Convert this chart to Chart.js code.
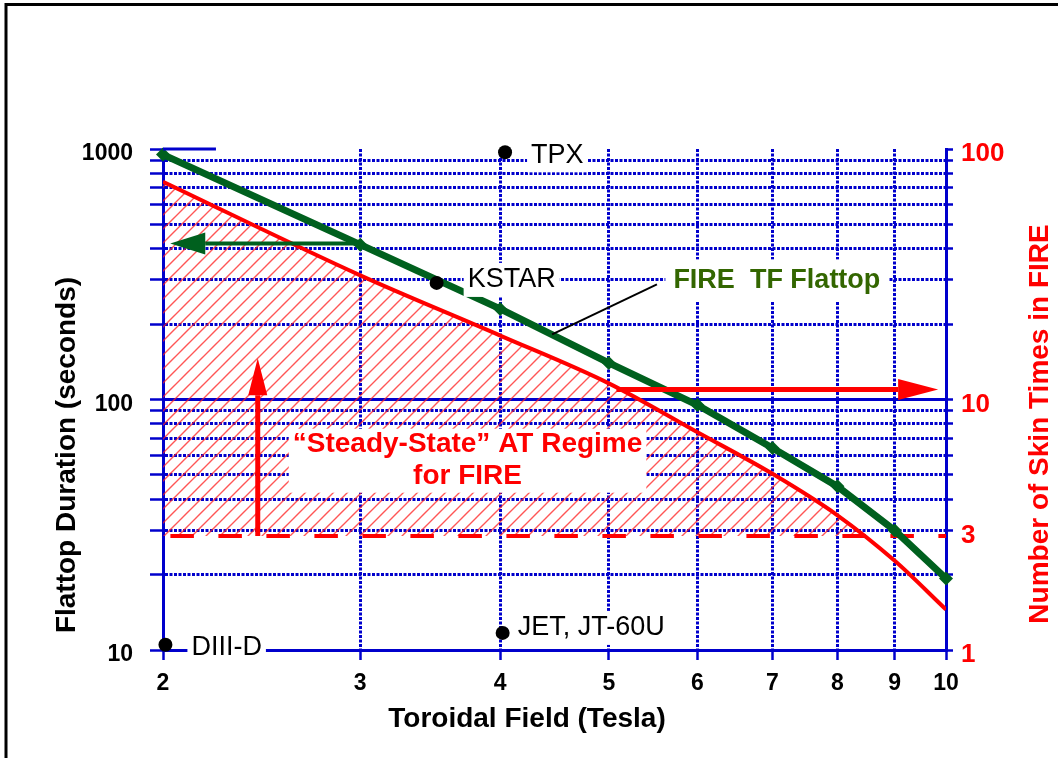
<!DOCTYPE html>
<html>
<head>
<meta charset="utf-8">
<title>FIRE flattop duration</title>
<script src="https://cdn.jsdelivr.net/npm/chart.js@4.4.1/dist/chart.umd.min.js"></script>
<style>
  html, body { margin: 0; padding: 0; background: #fff; overflow: hidden; }
  canvas { display: block; }
</style>
</head>
<body>
<canvas id="flattopChart" width="1058" height="758"></canvas>
<script>
// Toroidal field (T) where the flattop was computed
const fieldTesla = [2, 3, 4, 5, 6, 7, 8, 9, 10];
// TF coil flattop duration (s)
const tfFlattop = [950, 415, 230, 140, 95, 64, 45, 30, 19.3];
// upper edge of the steady-state regime (s)
const skinLimit = [740, 313, 180, 116, 74, 50.5, 34.5, 22.7, 14.5];
// lower edge: about 3 skin times
const steadyStateFloor = 28.5;

// existing machines
const machineNames = ["TPX", "KSTAR", "JET, JT-60U", "DIII-D"];
const machineField = [4.04, 3.51, 4.02, 2.01];
const machineFlattop = [970, 292, 11.7, 10.5];

// axis ticks
const fieldTicks = [2, 3, 4, 5, 6, 7, 8, 9, 10];
const durationTicks = [10, 20, 30, 40, 50, 60, 70, 80, 90, 100, 200, 300, 400, 500, 600, 700, 800, 900, 1000];
const durationLabels = [10, 100, 1000];
const skinTicks = [1, 2, 3, 4, 5, 6, 7, 8, 9, 10, 20, 30, 40, 50, 60, 70, 80, 90, 100];
const skinLabels = [1, 3, 10, 100];

// arrows [field, seconds]
const arrowStart = [[3, 420], [2.43, 28.5], [5.08, 109.6]];
const arrowEnd = [[2.03, 420], [2.43, 146], [9.84, 109.6]];
// pointer from the TF label to its curve
const leaderStart = [4.45, 182];
const leaderEnd = [5.52, 288];

const BLUE = "#0000CC";
const RED = "#FF0000";
const GREEN = "#00601E";
const FONT = '"Liberation Sans", Arial, sans-serif';

const canvas = document.getElementById("flattopChart");
const ctx = canvas.getContext("2d");

/**
 * Diagonal red hatch for the steady-state region
 */
function maakHatch() {
  const s = 14;
  const tile = document.createElement("canvas");
  tile.width = s;
  tile.height = s;
  const g = tile.getContext("2d");
  g.strokeStyle = "rgba(255,30,30,0.75)";
  g.lineWidth = 1.4;
  g.beginPath();
  g.moveTo(-2, s + 2); g.lineTo(s + 2, -2);
  g.moveTo(-2, 2); g.lineTo(2, -2);
  g.moveTo(s - 2, s + 2); g.lineTo(s + 2, s - 2);
  g.stroke();
  return ctx.createPattern(tile, "repeat");
}

function pijl(c, x1, y1, x2, y2, kleur, dik, kopLen, kopBreed) {
  const a = Math.atan2(y2 - y1, x2 - x1);
  const bx = x2 - kopLen * Math.cos(a);
  const by = y2 - kopLen * Math.sin(a);
  c.strokeStyle = kleur;
  c.fillStyle = kleur;
  c.lineWidth = dik;
  c.beginPath();
  c.moveTo(x1, y1);
  c.lineTo(bx, by);
  c.stroke();
  const hx = Math.sin(a) * kopBreed / 2;
  const hy = Math.cos(a) * kopBreed / 2;
  c.beginPath();
  c.moveTo(x2, y2);
  c.lineTo(bx + hx, by - hy);
  c.lineTo(bx - hx, by + hy);
  c.closePath();
  c.fill();
}

function tekstMetVak(c, tekst, x, y, padX, padY) {
  const w = c.measureText(tekst).width;
  c.fillStyle = "#fff";
  c.fillRect(x - padX, y - padY, w + 2 * padX, 2 * padY);
}

const labelDx = [26, 31, 15, 26];
const labelDy = [3, -3, -5, 2.5];
const pijlKleur = [GREEN, RED, RED];
const pijlKop = [[35, 22], [37, 19], [40, 21]];

const decoratie = {
  id: "decoratie",
  beforeDraw(chart) {
    const c = chart.ctx;
    c.save();
    c.fillStyle = "#fff";
    c.fillRect(0, 0, chart.width, chart.height);
    // frame
    c.strokeStyle = "#000";
    c.lineWidth = 3;
    c.beginPath();
    c.moveTo(6, chart.height);
    c.lineTo(6, 4.5);
    c.lineTo(chart.width, 4.5);
    c.stroke();
    c.restore();
  },
  afterDatasetsDraw(chart) {
    const c = chart.ctx;
    const xs = chart.scales.x;
    const ys = chart.scales.y;
    const px = (v) => xs.getPixelForValue(v);
    const py = (v) => ys.getPixelForValue(v);
    c.save();

    // short solid stub at the 1000 s line
    c.strokeStyle = BLUE;
    c.lineWidth = 3;
    c.beginPath();
    c.moveTo(chart.chartArea.left, py(1000));
    c.lineTo(px(2.23), py(1000));
    c.stroke();

    arrowStart.forEach((p, i) => {
      pijl(c, px(p[0]), py(p[1]), px(arrowEnd[i][0]), py(arrowEnd[i][1]),
        pijlKleur[i], i === 0 ? 4 : 5, pijlKop[i][0], pijlKop[i][1]);
    });

    // leader line
    c.strokeStyle = "#000";
    c.lineWidth = 2;
    c.beginPath();
    c.moveTo(px(leaderStart[0]), py(leaderStart[1]));
    c.lineTo(px(leaderEnd[0]), py(leaderEnd[1]));
    c.stroke();

    // machine labels
    c.font = "27px " + FONT;
    c.textBaseline = "middle";
    c.textAlign = "left";
    machineNames.forEach((naam, i) => {
      const x = px(machineField[i]) + labelDx[i];
      const y = py(machineFlattop[i]) + labelDy[i];
      tekstMetVak(c, naam, x, y, 4, 17);
      c.fillStyle = "#000";
      c.fillText(naam, x, y);
    });

    // TF flattop label
    c.font = "bold 27px " + FONT;
    const fx = px(5.71);
    const fy = py(299);
    tekstMetVak(c, "FIRE  TF Flattop", fx, fy, 8, 21);
    c.fillStyle = "#336600";
    c.fillText("FIRE  TF Flattop", fx, fy);

    // steady-state regime label
    c.font = "bold 28px " + FONT;
    c.textAlign = "center";
    const sx = px(3.74);
    const sy = py(66);
    const regel1 = "\u201CSteady-State\u201D AT Regime";
    const w = c.measureText(regel1).width;
    c.fillStyle = "#fff";
    c.fillRect(sx - w / 2 - 4, sy - 16, w + 8, 64);
    c.fillStyle = RED;
    c.fillText(regel1, sx, sy);
    c.fillText("for FIRE", sx, sy + 32);

    c.restore();
  },
  afterDraw(chart) {
    const c = chart.ctx;
    c.save();
    c.textAlign = "center";
    c.textBaseline = "middle";
    c.font = "bold 28px " + FONT;
    c.fillStyle = "#000";
    c.fillText("Toroidal Field (Tesla)", 527, 719);

    c.translate(67, 455);
    c.rotate(-Math.PI / 2);
    c.fillText("Flattop Duration (seconds)", 0, 0);
    c.restore();

    c.save();
    c.textAlign = "center";
    c.textBaseline = "middle";
    c.font = "bold 28px " + FONT;
    c.fillStyle = RED;
    c.translate(1040, 424);
    c.rotate(-Math.PI / 2);
    c.fillText("Number of Skin Times in FIRE", 0, 0);
    c.restore();
  },
};

const stippel = (waarden) => (context) =>
  context.tick && !waarden.includes(context.tick.value) ? [3, 1.5] : [];

const tickFont = { family: FONT, size: 23, weight: "bold" };

new Chart(ctx, {
  type: "line",
  data: {
    datasets: [
      {
        label: "Steady-state limit",
        data: fieldTesla.map((x, i) => ({ x, y: skinLimit[i] })),
        borderColor: RED,
        borderWidth: 4,
        pointRadius: 0,
        cubicInterpolationMode: "monotone",
        fill: { target: 1, above: maakHatch(), below: "rgba(0,0,0,0)" },
        order: 3,
      },
      {
        label: "3 skin times",
        data: fieldTesla.map((x) => ({ x, y: steadyStateFloor })),
        borderColor: RED,
        borderWidth: 4,
        borderDash: [23.5, 24.5],
        borderDashOffset: 40.6,
        pointRadius: 0,
        fill: false,
        order: 2,
      },
      {
        label: "FIRE TF Flattop",
        data: fieldTesla.map((x, i) => ({ x, y: tfFlattop[i] })),
        borderColor: GREEN,
        borderWidth: 7,
        pointStyle: "rectRot",
        pointRadius: 7,
        pointBackgroundColor: GREEN,
        pointBorderWidth: 0,
        fill: false,
        clip: false,
        order: 1,
      },
      {
        label: "Machines",
        data: machineField.map((x, i) => ({ x, y: machineFlattop[i] })),
        showLine: false,
        pointRadius: 7,
        pointBackgroundColor: "#000",
        pointBorderWidth: 0,
        clip: false,
        order: 0,
      },
    ],
  },
  options: {
    responsive: false,
    animation: false,
    events: [],
    layout: { padding: { top: 149, left: 0, right: 0, bottom: 0 } },
    plugins: {
      legend: { display: false },
      tooltip: { enabled: false },
    },
    scales: {
      x: {
        type: "logarithmic",
        min: 2,
        max: 10,
        afterBuildTicks: (s) => { s.ticks = fieldTicks.map((v) => ({ value: v })); },
        afterFit: (s) => { s.height = 108; },
        ticks: {
          autoSkip: false,
          maxRotation: 0,
          color: "#000",
          font: tickFont,
          padding: 10,
          callback: (v) => String(v),
        },
        grid: {
          color: BLUE,
          lineWidth: 3,
          tickLength: 10,
          tickColor: BLUE,
          tickWidth: 2.5,
          tickBorderDash: [],
        },
        border: { color: BLUE, width: 3, dash: stippel([2, 10]) },
      },
      y: {
        type: "logarithmic",
        position: "left",
        min: 10,
        max: 1000,
        afterBuildTicks: (s) => { s.ticks = durationTicks.map((v) => ({ value: v })); },
        afterFit: (s) => { s.width = 163; },
        ticks: {
          autoSkip: false,
          color: "#000",
          font: tickFont,
          padding: 17,
          labelOffset: 5,
          callback: (v) => (durationLabels.includes(v) ? String(v) : ""),
        },
        grid: {
          color: (c) => (c.tick && c.tick.value === 1000 ? "rgba(0,0,0,0)" : BLUE),
          lineWidth: 3,
          tickLength: 13,
          tickColor: BLUE,
          tickWidth: 2.5,
          tickBorderDash: [],
        },
        border: { color: BLUE, width: 3, dash: stippel(durationLabels) },
      },
      y2: {
        type: "logarithmic",
        position: "right",
        min: 1,
        max: 100,
        afterBuildTicks: (s) => { s.ticks = skinTicks.map((v) => ({ value: v })); },
        afterFit: (s) => { s.width = 112; },
        ticks: {
          autoSkip: false,
          color: RED,
          font: { family: FONT, size: 26, weight: "bold" },
          padding: 8,
          labelOffset: 5,
          callback: (v) => (skinLabels.includes(v) ? String(v) : ""),
        },
        grid: {
          drawOnChartArea: false,
          color: BLUE,
          tickLength: 7,
          tickColor: BLUE,
          tickWidth: 2.5,
          tickBorderDash: [],
        },
        border: { color: BLUE, width: 3 },
      },
    },
  },
  plugins: [decoratie],
});
</script>
</body>
</html>
